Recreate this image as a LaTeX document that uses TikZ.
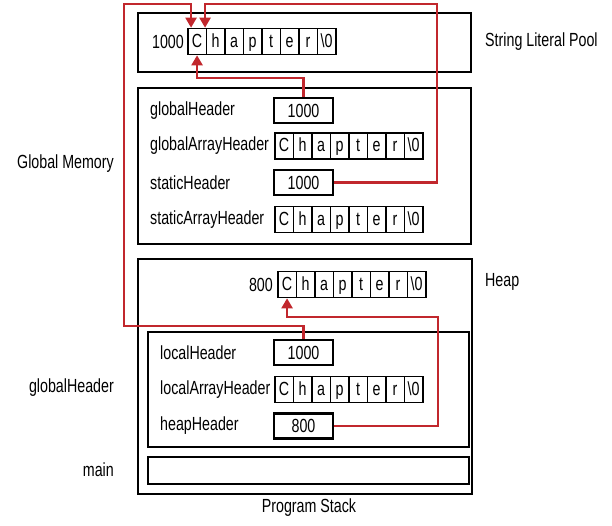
\documentclass[tikz,border=0pt]{standalone}
\usepackage{fontspec}
\setmainfont[FakeStretch=0.75]{Liberation Sans}
\usetikzlibrary{arrows.meta,calc}
\definecolor{ptrred}{RGB}{193,39,45}
\begin{document}
\begin{tikzpicture}[x=1pt,y=-1pt,
  every node/.style={font=\fontsize{19}{22}\selectfont},
  region/.style={draw,line width=2.4pt,anchor=north west,inner sep=0pt},
  valbox/.style={draw,line width=2.2pt,minimum width=59pt,minimum height=25pt,inner sep=0pt,text height=13.6pt,text depth=0pt},
  cell/.style={draw,line width=1.6pt,minimum width=18.5pt,minimum height=26pt,inner sep=0pt,anchor=west,text height=13.6pt,text depth=2pt},
  ptr/.style={draw=ptrred,line width=2.2pt,-{Triangle[length=10pt,width=11pt]}},
  lbl/.style={anchor=west,inner sep=0pt},
  rlbl/.style={anchor=east,inner sep=0pt}]
\useasboundingbox (0,0) rectangle (612,525);
% regions
\node[region,minimum width=333pt,minimum height=59pt] (pool) at (137,12) {};
\node[region,minimum width=333pt,minimum height=156pt] (glob) at (137,87) {};
\node[region,minimum width=334pt,minimum height=235pt] (heap) at (137,258) {};
\node[region,minimum width=321pt,minimum height=115pt] (frame) at (147,331) {};
\node[region,minimum width=321pt,minimum height=27pt] (mainbox) at (147,456) {};
% char arrays
\foreach \pre/\x/\y in {sl/187/41.5, ga/274/146, sa/274/219.5, hp/277/284.5, la/274/389.5}{
  \foreach \c [count=\i] in {C,h,a,p,t,e,r,\textbackslash 0}{
    \node[cell] (\pre-\i) at ({\x+(\i-1)*18.5},\y) {\c};
  }
}
% value boxes
\node[valbox] (gh) at (303.5,110.5) {1000};
\node[valbox] (sh) at (303.5,182.5) {1000};
\node[valbox] (lh) at (303.5,352.5) {1000};
\node[valbox] (hh) at (303.5,426) {800};
% labels
\node[rlbl] (a1000) at (184,41.5) {1000};
\node[rlbl] (a800) at (273,284.5) {800};
\node[lbl] (l1) at (150,110.5) {globalHeader};
\node[lbl] (l2) at (150,146) {globalArrayHeader};
\node[lbl] (l3) at (150,182.5) {staticHeader};
\node[lbl] (l4) at (150,219.5) {staticArrayHeader};
\node[lbl] (l5) at (160,352.5) {localHeader};
\node[lbl] (l6) at (160,389.5) {localArrayHeader};
\node[lbl] (l7) at (160,426) {heapHeader};
\node[lbl] (tpool) at (485,42) {String Literal Pool};
\node[lbl] (theap) at (485,282) {Heap};
\node[rlbl] (tglob) at (114,164) {Global Memory};
\node[rlbl] (tgh) at (114,388) {globalHeader};
\node[rlbl] (tmain) at (114,470) {main};
\node (tstack) at (309,508) {Program Stack};
% pointers
\coordinate (g1) at (303.5,78);
\path[ptr] (gh.north) -- (g1) -| (sl-1.south);
\coordinate (s1) at (437,4);
\path[ptr] (sh.east) -| (s1) -| ($(sl-1.north)+(8,0)$);
\coordinate (m1) at (124,326);
\coordinate (m2) at (124,4);
\path[ptr] (lh.north) |- (m1) -- (m2) -| ($(sl-1.north)+(-6,0)$);
\coordinate (h1) at (438,317);
\path[ptr] (hh.east) -| (h1) -| (hp-1.south);
\end{tikzpicture}
\end{document}
